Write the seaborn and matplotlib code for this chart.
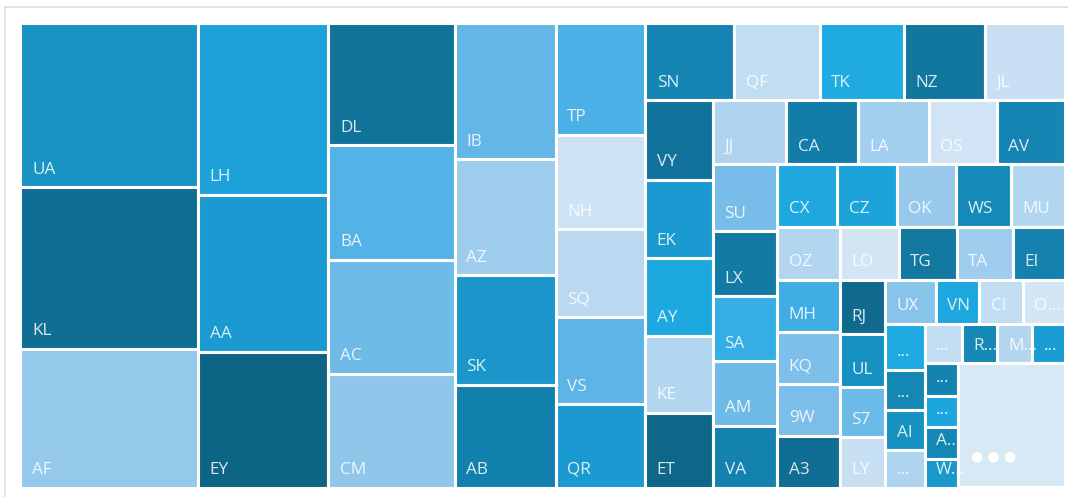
import matplotlib
matplotlib.use("Agg")
import matplotlib.pyplot as plt
from matplotlib.patches import Rectangle
from matplotlib.lines import Line2D
import seaborn as sns

# Treemap Daten (Werte grob aus dem Bild geschaetzt)
labels = ["UA", "KL", "AF", "LH", "AA", "EY", "DL", "BA", "AC", "CM",
          "IB", "AZ", "SK", "AB", "TP", "NH", "SQ", "VS", "QR",
          "SN", "QF", "TK", "NZ", "JL", "VY", "EK", "AY", "KE", "ET",
          "JJ", "CA", "LA", "OS", "AV", "SU", "LX", "SA", "AM", "VA",
          "CX", "CZ", "OK", "WS", "MU", "OZ", "MH", "KQ", "9W", "A3",
          "LO", "TG", "TA", "EI", "RJ", "UL", "S7", "LY",
          "UX", "VN", "CI", "O...", "...", "...", "AI", "...",
          "...", "R...", "M...", "...", "...", "...", "A...", "W...", ""]
values = [29330, 28750, 24690, 22455, 20510, 17670, 15510, 14530, 14420, 14400,
          13830, 11750, 11070, 10400, 10040, 8440, 7890, 7770, 7470,
          6940, 6650, 6600, 6320, 6210, 5390, 5360, 5270, 5230, 5090,
          4680, 4590, 4520, 4365, 4360, 4310, 4200, 4160, 4150, 3975,
          3770, 3740, 3735, 3455, 3410, 3290, 3270, 3250, 3230, 3215,
          3125, 3055, 2980, 2740, 2490, 2430, 2305, 2300,
          2230, 1930, 1905, 1875, 1805, 1610, 1580, 1470,
          1460, 1375, 1370, 1305, 1090, 1070, 1050, 960, 13320]
colors = ["#1893C4", "#0F6E94", "#94C9EC", "#1CA2D8", "#1A9AD0", "#0D6585", "#11729A", "#53B3E6", "#6FBBE8", "#8FC6EA",
          "#63B6E6", "#9FCDEE", "#1A96CA", "#1280AD", "#4AB0E5", "#CDE3F5", "#BAD8F0", "#5EB4E6", "#1A9AD0",
          "#1586B4", "#C0DDF2", "#1FAAE2", "#12779E", "#C9E0F4", "#11739B", "#1A9AD0", "#1EA8E0", "#B3D6F0", "#0E6688",
          "#AED3EF", "#127DA8", "#A3CFEF", "#D0E4F5", "#1585B3", "#78BDE9", "#127AA3", "#35ADE5", "#6FBBE8", "#1482AF",
          "#1FA8E0", "#1CA3DA", "#98C9EC", "#1589B7", "#B3D6F0", "#B3D6F0", "#40AEE5", "#7CBFE9", "#7ABEE9", "#106E94",
          "#D2E5F5", "#12789F", "#A0CDEE", "#1481AE", "#0F6A8D", "#1690C0", "#6CBAE8", "#C7DFF3",
          "#88C4EA", "#1EA6DE", "#C3DDF2", "#D4E6F5", "#1FAAE2", "#1587B5", "#1790C2", "#AED3EF",
          "#C3DDF2", "#1588B6", "#B3D6F0", "#1A9DD3", "#1483B0", "#1DA5DD", "#1587B5", "#1A98CC", "#D8E9F6"]

W, H = 1044.5, 465.0


def worst(row, w):
    s = sum(row)
    return max(max(w * w * r / (s * s), s * s / (w * w * r)) for r in row)


def squarify(vals, x, y, dx, dy):
    rects = []
    i = 0
    while i < len(vals):
        w = min(dx, dy)
        row = [vals[i]]
        j = i + 1
        while j < len(vals) and worst(row + [vals[j]], w) <= worst(row, w):
            row.append(vals[j])
            j += 1
        s = sum(row)
        if dx >= dy:
            # Spalte links
            cw = s / dy
            yy = y
            for r in row:
                rects.append((x, yy, cw, r / cw))
                yy += r / cw
            x += cw
            dx -= cw
        else:
            # Zeile oben
            rh = s / dx
            xx = x
            for r in row:
                rects.append((xx, y, r / rh, rh))
                xx += r / rh
            y += rh
            dy -= rh
        i = j
    return rects


total = sum(values)
areas = [v * W * H / total for v in values]
rects = squarify(areas, 0, 0, W, H)

sns.set_theme(style="white")
plt.rcParams['font.family'] = ['Open Sans', 'DejaVu Sans']
palette = sns.color_palette(colors)

fig = plt.figure(figsize=(10.68, 4.97), dpi=100)
ax = fig.add_axes([20.5 / 1068, 1 - 487.5 / 497, W / 1068, H / 497])
ax.set_xlim(0, W)
ax.set_ylim(H, 0)
ax.axis('off')

for (x, y, w, h), lab, c in zip(rects, labels, palette):
    ax.add_patch(Rectangle((x, y), w, h, facecolor=c, edgecolor='white', linewidth=2.2))
    if lab:
        ax.text(x + 11.5, y + h - 13.5, lab, color='white', alpha=0.85,
                fontsize=12.3, va='baseline', ha='left')
    else:
        # "mehr" Kachel mit drei Punkten
        ax.text(x + 13, y + h - 31.5, "\u25CF \u25CF \u25CF", color='white',
                fontsize=10, va='center', ha='left', family='DejaVu Sans')

# grauer Rahmen
fig.add_artist(Line2D([5 / 1068, 5 / 1068], [0, 1 - 7 / 497], color='#DEDEDE', lw=1.2))
fig.add_artist(Line2D([5 / 1068, 1], [1 - 7 / 497, 1 - 7 / 497], color='#DEDEDE', lw=1.2))

fig.savefig('out.png', dpi=100)
